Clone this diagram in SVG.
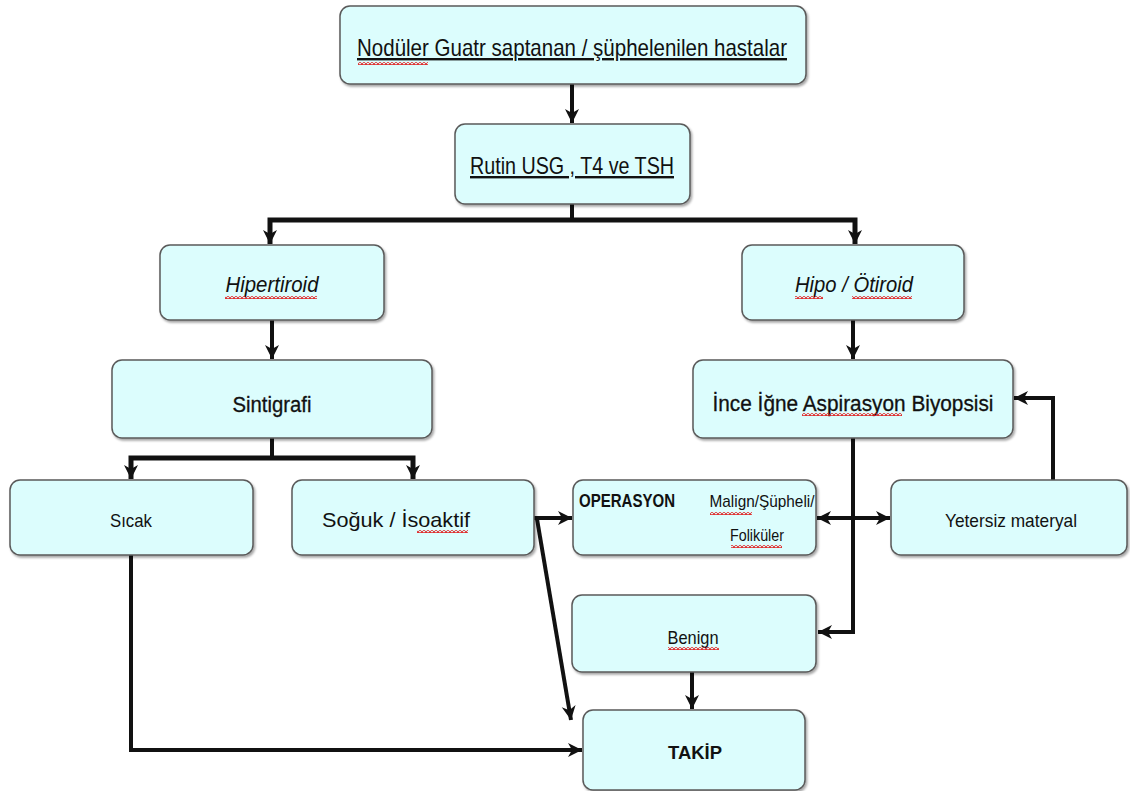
<svg xmlns="http://www.w3.org/2000/svg" width="1130" height="791" viewBox="0 0 1130 791">
<defs>
<style>
.box{fill:#dcfdfd;stroke:#5a5a5a;stroke-width:1.5}
.t{font-family:"Liberation Sans",Arial,sans-serif;fill:#111;text-anchor:middle}
.c{fill:none;stroke:#111;stroke-width:4}
.th{fill:none;stroke:#111;stroke-width:5}
.sq{fill:url(#squig)}
</style>
<filter id="sh" x="-5%" y="-5%" width="110%" height="115%">
<feDropShadow dx="1.5" dy="2" stdDeviation="1" flood-color="#000" flood-opacity="0.35"/>
</filter>
<pattern id="squig" width="4" height="3" patternUnits="userSpaceOnUse">
<path d="M0,2.5 L2,0.5 L4,2.5" fill="none" stroke="#e01818" stroke-width="1.2"/>
</pattern>
<marker id="ah" markerUnits="userSpaceOnUse" markerWidth="16" markerHeight="16" refX="14" refY="7" orient="auto" viewBox="0 0 16 14">
<path d="M0,0 L14,7 L0,14 L4,7 z" fill="#111"/>
</marker>
<marker id="ahs" markerUnits="userSpaceOnUse" markerWidth="16" markerHeight="16" refX="0" refY="7" orient="auto" viewBox="0 0 16 14">
<path d="M14,0 L0,7 L14,14 L10,7 z" fill="#111"/>
</marker>
</defs>
<rect width="1130" height="791" fill="#fff"/>

<g id="connectors">
<line class="c" x1="572" y1="84" x2="572" y2="123" marker-end="url(#ah)"/>
<line class="c" x1="572" y1="204" x2="572" y2="218"/>
<polyline class="th" points="270,244 270,220 855,220 855,244"/>
<line class="c" x1="270" y1="232" x2="270" y2="244" marker-end="url(#ah)"/>
<line class="c" x1="855" y1="232" x2="855" y2="244" marker-end="url(#ah)"/>
<line class="c" x1="272" y1="320" x2="272" y2="359" marker-end="url(#ah)"/>
<line class="c" x1="853" y1="320" x2="853" y2="359" marker-end="url(#ah)"/>
<line class="c" x1="272" y1="438" x2="272" y2="458"/>
<polyline class="th" points="131,479 131,458 413,458 413,479"/>
<line class="c" x1="131" y1="468" x2="131" y2="479" marker-end="url(#ah)"/>
<line class="c" x1="413" y1="468" x2="413" y2="479" marker-end="url(#ah)"/>
<polyline class="c" points="131,555 131,750 582,750" marker-end="url(#ah)"/>
<line class="c" x1="534" y1="518" x2="572" y2="518" marker-end="url(#ah)"/>
<line class="c" x1="537" y1="519" x2="571" y2="720" stroke-width="3" marker-end="url(#ah)"/>
<line class="c" x1="705" y1="518" x2="683" y2="518" marker-end="url(#ah)"/>
<line class="c" x1="817" y1="518" x2="890" y2="518" marker-start="url(#ahs)" marker-end="url(#ah)"/>
<polyline class="c" points="853,438 853,632 818,632" marker-end="url(#ah)"/>
<polyline class="c" points="1053,480 1053,398 1014,398" marker-end="url(#ah)"/>
<line class="c" x1="692" y1="672" x2="692" y2="709" marker-end="url(#ah)"/>
</g>

<g id="n1"><rect class="box" filter="url(#sh)" x="340" y="6" width="466" height="78" rx="10"/>
<text class="t" x="572" y="56" font-size="24" textLength="430" lengthAdjust="spacingAndGlyphs" text-decoration="underline">Nodüler Guatr saptanan / şüphelenilen hastalar</text>
<rect class="sq" x="358" y="62" width="70" height="3"/></g>

<g id="n2"><rect class="box" filter="url(#sh)" x="455" y="124" width="235" height="80" rx="10"/>
<text class="t" x="572" y="174" font-size="24" textLength="204" lengthAdjust="spacingAndGlyphs" text-decoration="underline">Rutin USG , T4 ve TSH</text></g>

<g id="n3"><rect class="box" filter="url(#sh)" x="160" y="245" width="224" height="75" rx="10"/>
<text class="t" x="272" y="292" font-size="22" font-style="italic" textLength="93" lengthAdjust="spacingAndGlyphs">Hipertiroid</text>
<rect class="sq" x="225" y="296" width="92" height="3"/></g>

<g id="n4"><rect class="box" filter="url(#sh)" x="742" y="245" width="222" height="75" rx="10"/>
<text class="t" x="854" y="292" font-size="22" font-style="italic" textLength="118" lengthAdjust="spacingAndGlyphs">Hipo / Ötiroid</text>
<rect class="sq" x="795" y="296" width="28" height="3"/><rect class="sq" x="852" y="296" width="60" height="3"/></g>

<g id="n5"><rect class="box" filter="url(#sh)" x="112" y="360" width="320" height="78" rx="10"/>
<text class="t" x="272" y="412" font-size="22" textLength="79" lengthAdjust="spacingAndGlyphs" stroke="#111" stroke-width="0.3">Sintigrafi</text></g>

<g id="n6"><rect class="box" filter="url(#sh)" x="693" y="360" width="320" height="78" rx="10"/>
<text class="t" x="853" y="411" font-size="22" textLength="281" lengthAdjust="spacingAndGlyphs" stroke="#111" stroke-width="0.3">İnce İğne Aspirasyon Biyopsisi</text>
<rect class="sq" x="802" y="413" width="100" height="3"/></g>

<g id="n7"><rect class="box" filter="url(#sh)" x="10" y="480" width="243" height="75" rx="10"/>
<text class="t" x="131" y="527" font-size="19" textLength="42" lengthAdjust="spacingAndGlyphs">Sıcak</text></g>

<g id="n8"><rect class="box" filter="url(#sh)" x="292" y="480" width="242" height="75" rx="10"/>
<text class="t" x="396" y="527" font-size="21" textLength="148" lengthAdjust="spacingAndGlyphs">Soğuk / İsoaktif</text>
<rect class="sq" x="417" y="530" width="51" height="3"/></g>

<g id="n9"><rect class="box" filter="url(#sh)" x="573" y="480" width="243" height="75" rx="10"/>
<text class="t" x="627" y="507" font-size="18" font-weight="bold" textLength="96" lengthAdjust="spacingAndGlyphs">OPERASYON</text>
<text class="t" x="762" y="507" font-size="17" textLength="105" lengthAdjust="spacingAndGlyphs">Malign/Şüpheli/</text>
<text class="t" x="757" y="541" font-size="17" textLength="54" lengthAdjust="spacingAndGlyphs">Foliküler</text>
<rect class="sq" x="710" y="512" width="42" height="3"/><rect class="sq" x="731" y="545" width="51" height="3"/></g>

<g id="n10"><rect class="box" filter="url(#sh)" x="891" y="480" width="236" height="75" rx="10"/>
<text class="t" x="1011" y="527" font-size="19" textLength="132" lengthAdjust="spacingAndGlyphs">Yetersiz materyal</text></g>

<g id="n11"><rect class="box" filter="url(#sh)" x="572" y="595" width="244" height="77" rx="10"/>
<text class="t" x="693" y="644" font-size="19" textLength="51" lengthAdjust="spacingAndGlyphs">Benign</text>
<rect class="sq" x="668" y="647" width="51" height="3"/></g>

<g id="n12"><rect class="box" filter="url(#sh)" x="583" y="710" width="222" height="80" rx="10"/>
<text class="t" x="695" y="759" font-size="19" font-weight="bold" textLength="54" lengthAdjust="spacingAndGlyphs">TAKİP</text></g>
</svg>
